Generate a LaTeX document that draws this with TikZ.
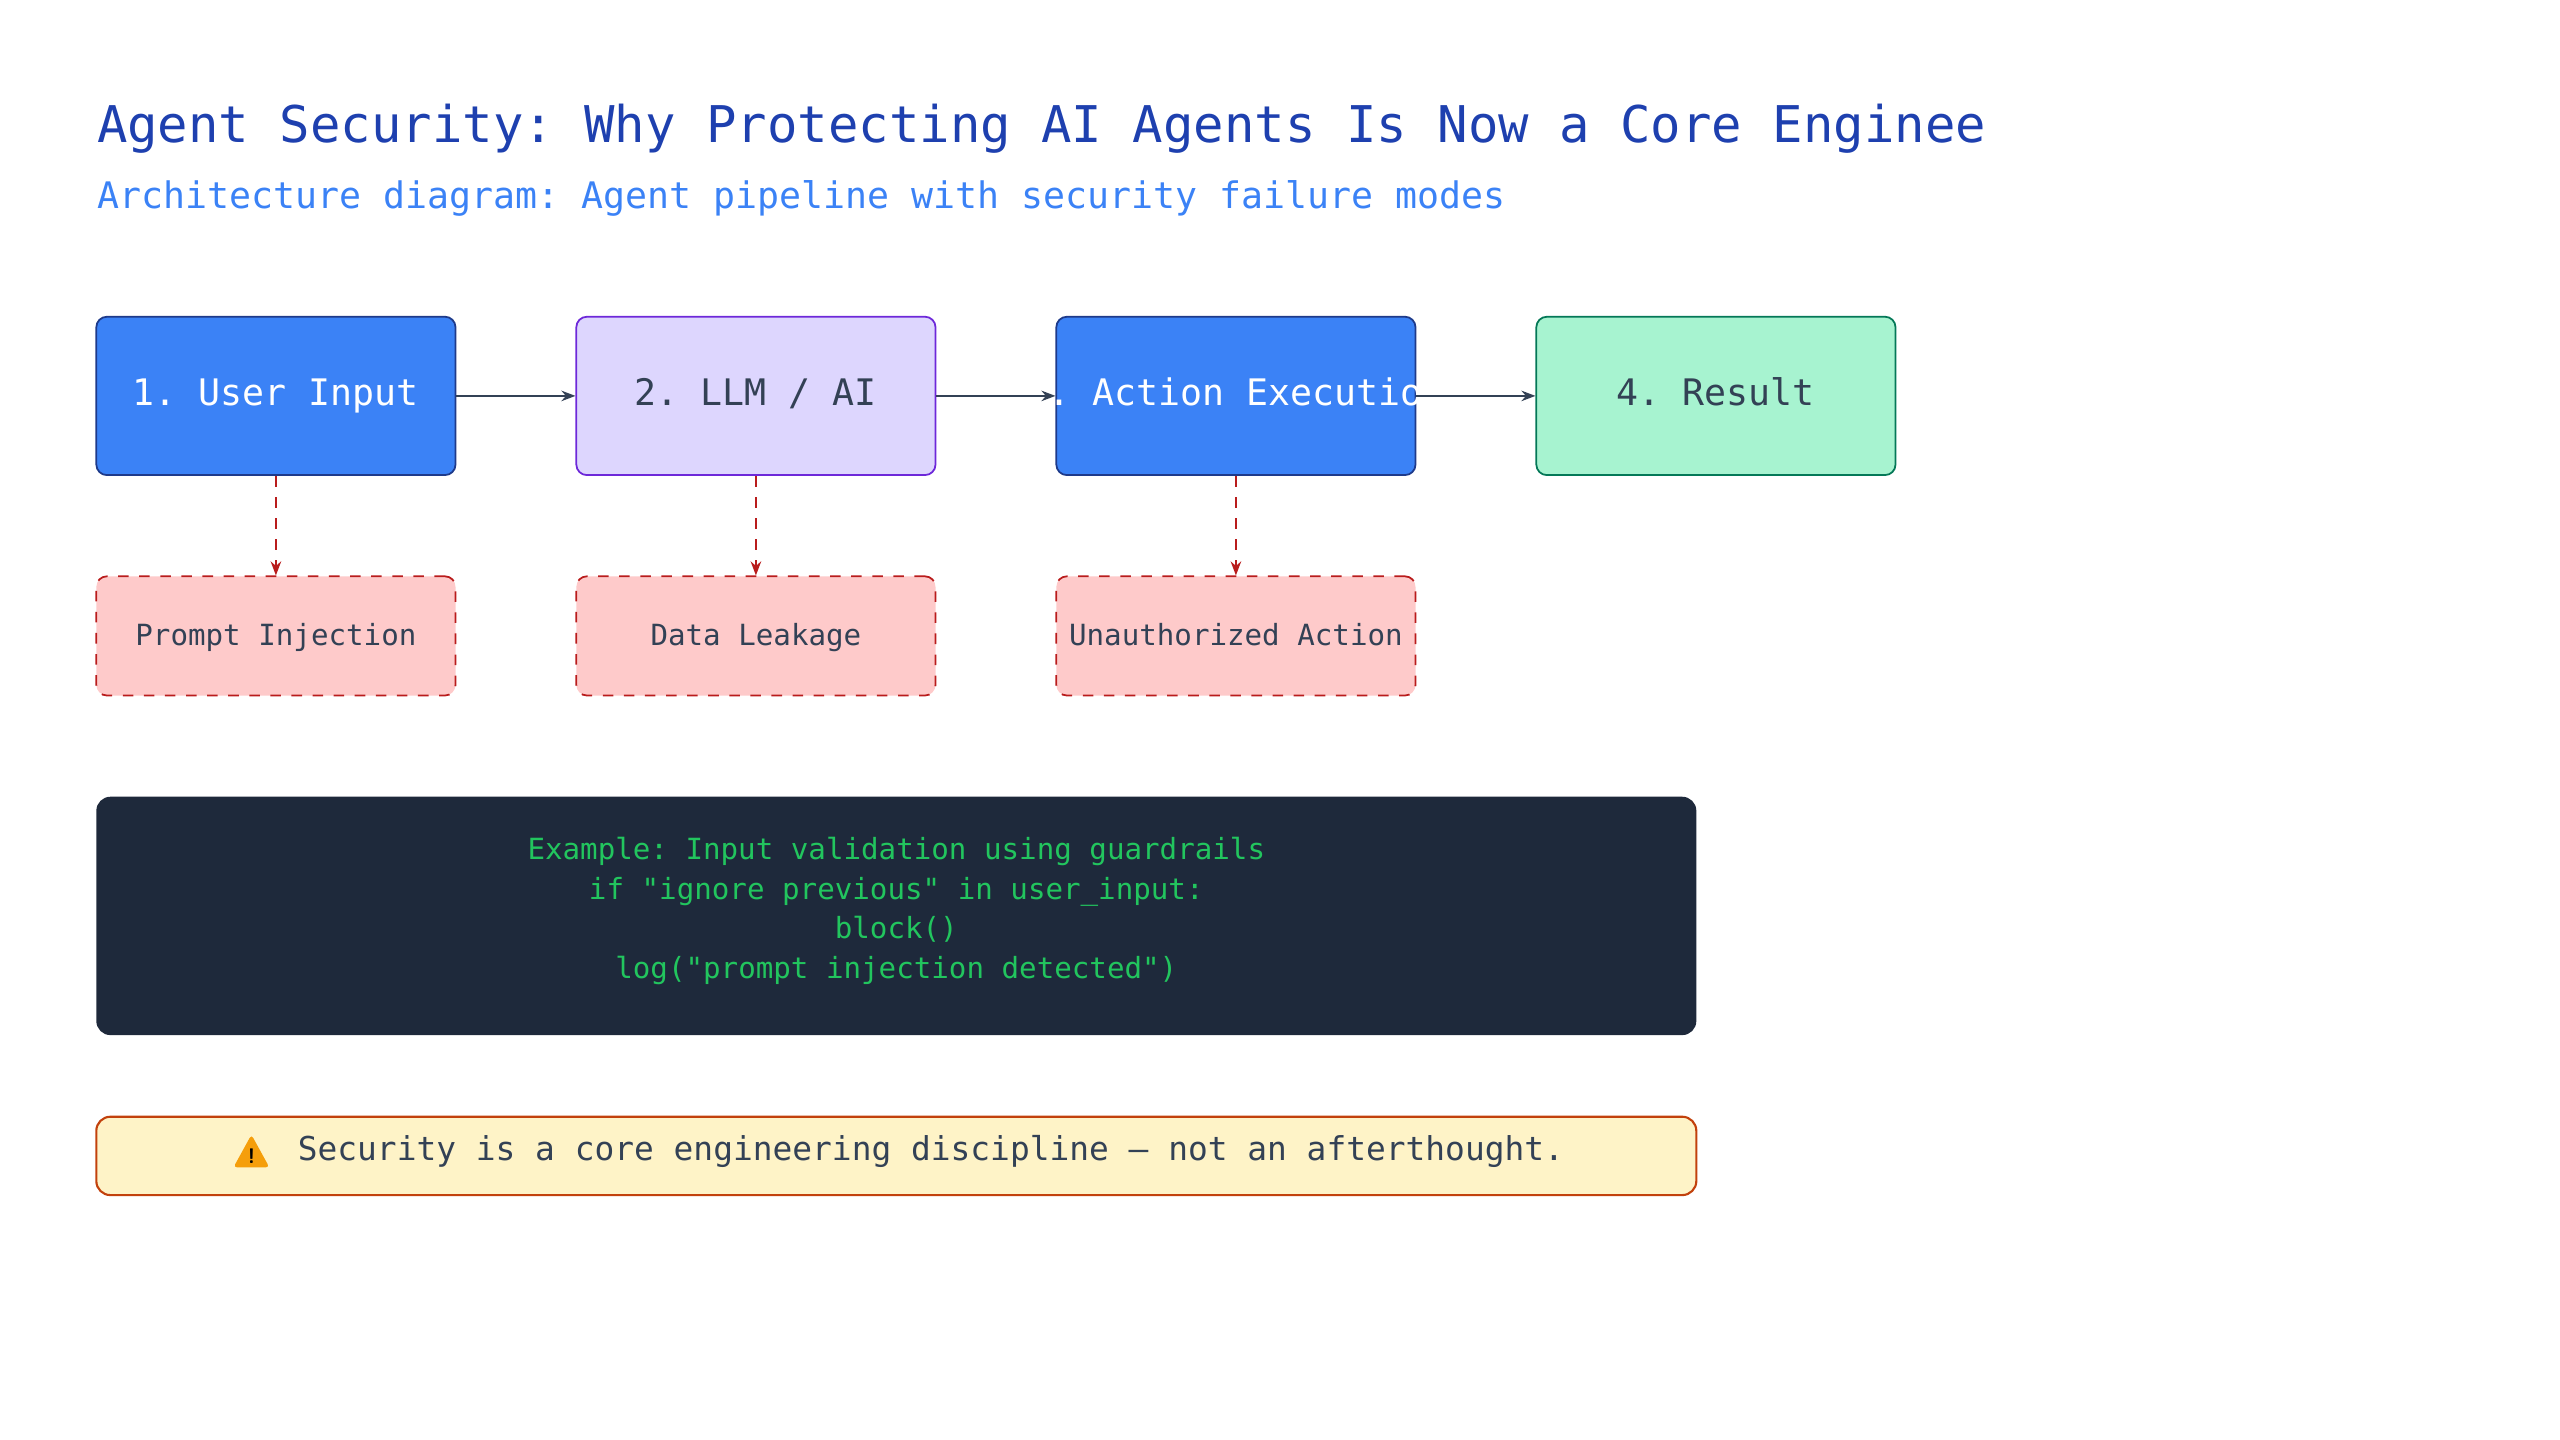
\documentclass[tikz,border=0pt]{standalone}
\usepackage{fontspec}
\setmonofont{DejaVu Sans Mono}
\usetikzlibrary{arrows.meta}
\definecolor{titleblue}{HTML}{1E40AF}
\definecolor{subblue}{HTML}{3B82F6}
\definecolor{stepblue}{HTML}{3B82F6}
\definecolor{stepblueline}{HTML}{1E3A8A}
\definecolor{llmfill}{HTML}{DDD6FE}
\definecolor{llmline}{HTML}{6D28D9}
\definecolor{resfill}{HTML}{A7F3D0}
\definecolor{resline}{HTML}{047857}
\definecolor{failfill}{HTML}{FECACA}
\definecolor{failline}{HTML}{B91C1C}
\definecolor{codefill}{HTML}{1E293B}
\definecolor{codetext}{HTML}{22C55E}
\definecolor{warnfill}{HTML}{FEF3C7}
\definecolor{warnline}{HTML}{C2410C}
\definecolor{warnicon}{HTML}{F59E0B}
\definecolor{ink}{HTML}{334155}
\tikzset{
  stage/.style={rounded corners=3pt, line width=0.5pt, minimum width=220*0.016327cm, minimum height=97*0.016327cm, text height=1.6ex, text depth=0.4ex, font=\ttfamily\fontsize{10.4}{12}\selectfont},
  fail/.style={rounded corners=3pt, dashed, draw=failline, fill=failfill, line width=0.5pt, minimum width=220*0.016327cm, minimum height=73*0.016327cm, text height=1.6ex, text depth=0.4ex, font=\ttfamily\fontsize{8.3}{10}\selectfont, text=ink},
  flow/.style={-{Stealth[length=4pt,width=3pt]}, draw=ink, line width=0.5pt},
  risk/.style={-{Stealth[length=4pt,width=3pt]}, draw=failline, dashed, line width=0.5pt},
}
\begin{document}
\begin{tikzpicture}[x=0.016327cm, y=-0.016327cm]
  \useasboundingbox (0,0) rectangle (1568,882);
  % titre
  \begin{scope}
    \clip (0,40) rectangle (1220,110);
    \node[anchor=base west, inner sep=0, text=titleblue, font=\ttfamily\fontsize{14.4}{17}\selectfont] (title) at (59,87) {Agent Security: Why Protecting AI Agents Is Now a Core Engineering Discipline};
  \end{scope}
  \node[anchor=base west, inner sep=0, text=subblue, font=\ttfamily\fontsize{10.4}{12}\selectfont] (subtitle) at (59,128) {Architecture diagram: Agent pipeline with security failure modes};

  % etapes du pipeline
  \node[stage, draw=stepblueline, fill=stepblue, text=white] (input) at (169,242.5) {1. User Input};
  \node[stage, draw=llmline, fill=llmfill, text=ink] (llm) at (463,242.5) {2. LLM / AI};
  \node[stage, draw=stepblueline, fill=stepblue] (action) at (757,242.5) {};
  \begin{scope}
    \clip[rounded corners=3pt] (action.south west) rectangle (action.north east);
    \node[text=white, text height=1.6ex, text depth=0.4ex, font=\ttfamily\fontsize{10.4}{12}\selectfont] at (action) {3. Action Execution};
  \end{scope}
  \node[stage, draw=resline, fill=resfill, text=ink] (result) at (1051,242.5) {4. Result};

  % modes de defaillance
  \node[fail] (inject) at (169,389.5) {Prompt Injection};
  \node[fail] (leak) at (463,389.5) {Data Leakage};
  \node[fail] (unauth) at (757,389.5) {Unauthorized Action};

  \draw[flow] (input) -- (llm);
  \draw[flow] (llm) -- (action);
  \draw[flow] (action) -- (result);
  \draw[risk] (input) -- (inject);
  \draw[risk] (llm) -- (leak);
  \draw[risk] (action) -- (unauth);

  % exemple de code
  \node[rounded corners=4pt, fill=codefill, minimum width=980*0.016327cm, minimum height=146*0.016327cm] (code) at (549,561) {};
  \node[text=codetext, align=center, font=\ttfamily\fontsize{8.3}{11.3}\selectfont] (codetxt) at (549,558) {Example: Input validation using guardrails\\if "ignore previous" in user\_input:\\block()\\log("prompt injection detected")};

  % avertissement
  \node[rounded corners=4pt, draw=warnline, fill=warnfill, line width=0.6pt, minimum width=980*0.016327cm, minimum height=48*0.016327cm] (warn) at (549,708) {};
  \node[anchor=west, inner sep=0, text=ink, font=\ttfamily\fontsize{9.35}{11}\selectfont] (warntxt) at (182,705) {Security is a core engineering discipline — not an afterthought.};
  \fill[warnicon, rounded corners=1pt] (154,695) -- (165,715) -- (143,715) -- cycle;
  \node[inner sep=0, font=\sffamily\bfseries\fontsize{6}{6}\selectfont] (warnmark) at (154,708) {!};
\end{tikzpicture}
\end{document}
